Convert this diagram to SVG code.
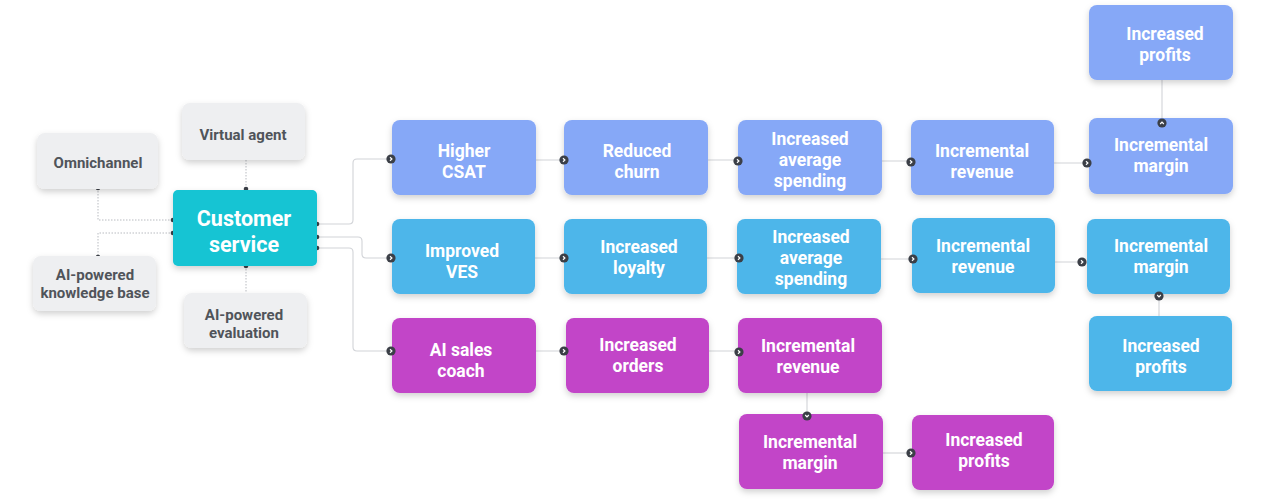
<svg xmlns="http://www.w3.org/2000/svg" width="1264" height="499" viewBox="0 0 1264 499">
<defs>
<filter id="sh" x="-20%" y="-20%" width="140%" height="160%">
<feDropShadow dx="0" dy="3" stdDeviation="3" flood-color="#000" flood-opacity="0.18"/>
</filter>
<g id="arr"><circle r="4.6" fill="#3b3f47"/><path d="M-1,-1.8 L0.9,0 L-1,1.8" fill="none" stroke="#fff" stroke-width="1.2"/></g>
<g id="arrUp"><circle r="4.6" fill="#3b3f47"/><path d="M-1.8,1 L0,-0.9 L1.8,1" fill="none" stroke="#fff" stroke-width="1.2"/></g>
<g id="arrDown"><circle r="4.6" fill="#3b3f47"/><path d="M-1.8,-1 L0,0.9 L1.8,-1" fill="none" stroke="#fff" stroke-width="1.2"/></g>
</defs>
<style>
.b{filter:url(#sh)}
.r1{fill:#86a8f7}
.r2{fill:#4db6ea}
.r3{fill:#c244c8}
.cs{fill:#12c4d3}
.gr{fill:#eeeff1}
.t{font-family:Roboto,"Liberation Sans",sans-serif;font-weight:700;font-size:17.5px;fill:#fff;text-anchor:middle}
.tc{font-family:Roboto,"Liberation Sans",sans-serif;font-weight:700;font-size:21.5px;fill:#fff;text-anchor:middle}
.tg{font-family:Roboto,"Liberation Sans",sans-serif;font-weight:700;font-size:15px;fill:#50545a;text-anchor:middle}
.ln{fill:none;stroke:#d2d4d8;stroke-width:1.1}
.dl{fill:none;stroke:#b8bbc0;stroke-width:1;stroke-dasharray:1.5 1.5}
.dot{fill:#3b3f47}
</style>
<rect width="1264" height="499" fill="#fff"/>

<g id="connectors">
<path class="dl" d="M246,160 V190"/>
<path class="dl" d="M98,188 V220 H173"/>
<path class="dl" d="M173,233 H98 V257"/>
<path class="dl" d="M246,266 V293"/>
<path class="ln" d="M317,224 H349 Q353,224 353,220 V163 Q353,159 357,159 H391"/>
<path class="ln" d="M317,237 H358 Q362,237 362,241 V254 Q362,258 366,258 H391"/>
<path class="ln" d="M317,248 H349 Q353,248 353,252 V347 Q353,351 357,351 H391"/>
<path class="ln" d="M536,160 H564 M708,160 H738 M882,161 H911 M1053,163 H1087"/>
<path class="ln" d="M1162,80 V123"/>
<path class="ln" d="M535,258 H564 M707,258 H739 M881,259 H913 M1055,262 H1082"/>
<path class="ln" d="M1159,294 V316"/>
<path class="ln" d="M536,351 H564 M709,351 H739"/>
<path class="ln" d="M807,393 V416"/>
<path class="ln" d="M883,453 H911"/>
<circle class="dot" cx="246" cy="189" r="2.3"/>
<circle class="dot" cx="98" cy="188" r="2.3"/>
<circle class="dot" cx="173" cy="220" r="2.3"/>
<circle class="dot" cx="173" cy="233" r="2.3"/>
<circle class="dot" cx="98" cy="257" r="2.3"/>
<circle class="dot" cx="246" cy="266" r="2.3"/>
<circle class="dot" cx="317" cy="224" r="2.3"/>
<circle class="dot" cx="317" cy="237" r="2.3"/>
<circle class="dot" cx="317" cy="248" r="2.3"/>
</g>

<g id="n-omnichannel"><rect class="gr b" x="37" y="133" width="121" height="56" rx="8"/><text class="tg" x="98" y="168">Omnichannel</text></g>
<g id="n-virtual"><rect class="gr b" x="182" y="103" width="123" height="57" rx="8"/><text class="tg" x="243" y="140">Virtual agent</text></g>
<g id="n-kb"><rect class="gr b" x="33" y="256" width="123" height="55" rx="8"/><text class="tg" x="95" y="280">AI-powered</text><text class="tg" x="95" y="298">knowledge base</text></g>
<g id="n-eval"><rect class="gr b" x="184" y="293" width="123" height="55" rx="8"/><text class="tg" x="244" y="320">AI-powered</text><text class="tg" x="244" y="338">evaluation</text></g>
<g id="n-cs"><rect class="cs b" x="173" y="190" width="144" height="76" rx="5"/><text class="tc" x="244" y="226">Customer</text><text class="tc" x="244" y="252">service</text></g>

<g id="n-r1-1"><rect class="r1 b" x="392" y="120" width="144" height="75" rx="8"/><text class="t" x="464" y="157">Higher</text><text class="t" x="464" y="178">CSAT</text></g>
<g id="n-r1-2"><rect class="r1 b" x="564" y="120" width="144" height="75" rx="8"/><text class="t" x="637" y="157">Reduced</text><text class="t" x="637" y="178">churn</text></g>
<g id="n-r1-3"><rect class="r1 b" x="738" y="120" width="144" height="75" rx="8"/><text class="t" x="810" y="145">Increased</text><text class="t" x="810" y="166">average</text><text class="t" x="810" y="187">spending</text></g>
<g id="n-r1-4"><rect class="r1 b" x="911" y="120" width="143" height="75" rx="8"/><text class="t" x="982" y="157">Incremental</text><text class="t" x="982" y="178">revenue</text></g>
<g id="n-r1-5"><rect class="r1 b" x="1089" y="118" width="144" height="76" rx="8"/><text class="t" x="1161" y="151">Incremental</text><text class="t" x="1161" y="172">margin</text></g>
<g id="n-r1-6"><rect class="r1 b" x="1089" y="5" width="144" height="75" rx="8"/><text class="t" x="1165" y="40">Increased</text><text class="t" x="1165" y="61">profits</text></g>

<g id="n-r2-1"><rect class="r2 b" x="392" y="219" width="143" height="75" rx="8"/><text class="t" x="462" y="257">Improved</text><text class="t" x="462" y="278">VES</text></g>
<g id="n-r2-2"><rect class="r2 b" x="564" y="219" width="143" height="75" rx="8"/><text class="t" x="639" y="253">Increased</text><text class="t" x="639" y="274">loyalty</text></g>
<g id="n-r2-3"><rect class="r2 b" x="737" y="219" width="144" height="75" rx="8"/><text class="t" x="811" y="243">Increased</text><text class="t" x="811" y="264">average</text><text class="t" x="811" y="285">spending</text></g>
<g id="n-r2-4"><rect class="r2 b" x="912" y="218" width="143" height="75" rx="8"/><text class="t" x="983" y="252">Incremental</text><text class="t" x="983" y="273">revenue</text></g>
<g id="n-r2-5"><rect class="r2 b" x="1087" y="219" width="143" height="75" rx="8"/><text class="t" x="1161" y="252">Incremental</text><text class="t" x="1161" y="273">margin</text></g>
<g id="n-r2-6"><rect class="r2 b" x="1089" y="316" width="143" height="75" rx="8"/><text class="t" x="1161" y="352">Increased</text><text class="t" x="1161" y="373">profits</text></g>

<g id="n-r3-1"><rect class="r3 b" x="392" y="318" width="144" height="75" rx="8"/><text class="t" x="461" y="356">AI sales</text><text class="t" x="461" y="377">coach</text></g>
<g id="n-r3-2"><rect class="r3 b" x="566" y="318" width="143" height="75" rx="8"/><text class="t" x="638" y="351">Increased</text><text class="t" x="638" y="372">orders</text></g>
<g id="n-r3-3"><rect class="r3 b" x="738" y="318" width="144" height="75" rx="8"/><text class="t" x="808" y="352">Incremental</text><text class="t" x="808" y="373">revenue</text></g>
<g id="n-r3-4"><rect class="r3 b" x="739" y="414" width="144" height="75" rx="8"/><text class="t" x="810" y="448">Incremental</text><text class="t" x="810" y="469">margin</text></g>
<g id="n-r3-5"><rect class="r3 b" x="912" y="415" width="142" height="75" rx="8"/><text class="t" x="984" y="446">Increased</text><text class="t" x="984" y="467">profits</text></g>

<g id="arrowheads">
<use href="#arr" x="391" y="159"/>
<use href="#arr" x="391" y="258"/>
<use href="#arr" x="391" y="351"/>
<use href="#arr" x="564" y="160"/>
<use href="#arr" x="738" y="161"/>
<use href="#arr" x="911" y="162"/>
<use href="#arr" x="1087" y="163"/>
<use href="#arrUp" x="1162" y="123"/>
<use href="#arr" x="564" y="258"/>
<use href="#arr" x="739" y="258"/>
<use href="#arr" x="913" y="259"/>
<use href="#arr" x="1082" y="262"/>
<use href="#arrDown" x="1159" y="296"/>
<use href="#arr" x="564" y="351"/>
<use href="#arr" x="739" y="352"/>
<use href="#arrDown" x="807" y="416"/>
<use href="#arr" x="911" y="453"/>
</g>
</svg>
